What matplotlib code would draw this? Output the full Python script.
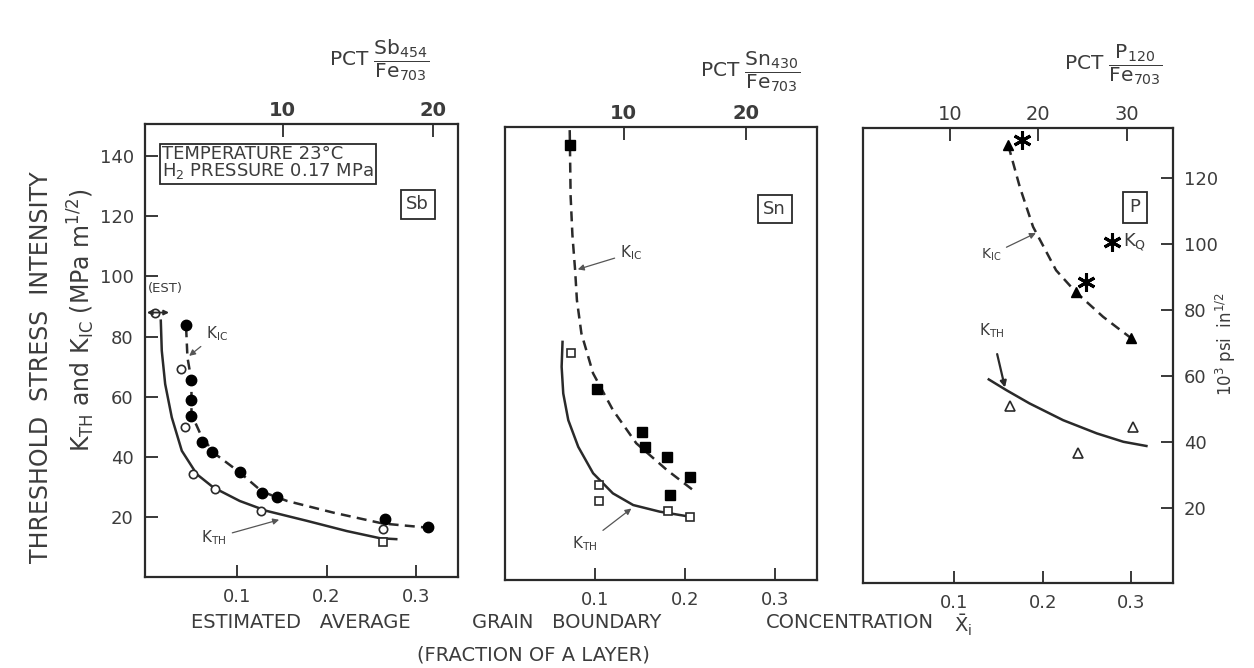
import numpy as np
import matplotlib
matplotlib.use("Agg")
import matplotlib.pyplot as plt

# ---- data ----
# x = grain boundary concentration (fraction of a layer), y = K (MPa m^1/2)

# Sb panel
sb_kic_x = [0.043, 0.049, 0.048, 0.048, 0.061, 0.072, 0.103, 0.128, 0.145, 0.265, 0.314]
sb_kic_y = [83.7, 65.7, 58.9, 53.7, 44.8, 41.7, 34.8, 27.8, 26.7, 19.4, 16.7]
sb_kth_x = [0.037, 0.042, 0.051, 0.075, 0.127, 0.263]
sb_kth_y = [69.2, 49.8, 34.2, 29.4, 22.0, 16.1]
sb_kth_sq_x = [0.263]
sb_kth_sq_y = [11.8]
sb_est_x, sb_est_y = 0.008, 88.0
sb_kic_curve_x = [0.043, 0.0445, 0.049, 0.049, 0.059, 0.0735, 0.103, 0.128, 0.156, 0.208, 0.263, 0.314]
sb_kic_curve_y = [83.1, 73.1, 65.3, 54.2, 47.6, 41.4, 34.8, 28.4, 25.3, 21.4, 17.8, 16.4]
sb_kth_curve_x = [0.0147, 0.0158, 0.0196, 0.027, 0.0382, 0.055, 0.0735, 0.103, 0.133, 0.178, 0.2226, 0.26, 0.278]
sb_kth_curve_y = [85.3, 75.3, 64.2, 53.1, 42.0, 34.2, 29.8, 25.3, 22.0, 18.7, 15.3, 12.9, 12.6]

# Sn panel
sn_kic_x = [0.072, 0.102, 0.152, 0.156, 0.180, 0.206, 0.184]
sn_kic_y = [145.0, 63.6, 49.4, 44.4, 40.9, 34.2, 28.3]
sn_kth_x = [0.073, 0.105, 0.105, 0.181, 0.206]
sn_kth_y = [75.8, 31.7, 26.4, 23.1, 21.1]
sn_kic_curve_x = [0.072, 0.073, 0.075, 0.078, 0.080, 0.085, 0.098, 0.120, 0.146, 0.180, 0.213]
sn_kic_curve_y = [150.0, 128.0, 115.0, 103.3, 93.3, 82.2, 68.9, 56.7, 45.6, 36.7, 29.1]
sn_kth_curve_x = [0.064, 0.063, 0.0648, 0.0704, 0.0815, 0.098, 0.120, 0.1426, 0.172, 0.206]
sn_kth_curve_y = [79.4, 71.1, 62.2, 53.3, 44.4, 35.6, 28.9, 25.0, 22.8, 21.1]

# P panel
p_kic_x = [0.161, 0.237, 0.300]
p_kic_y = [146.0, 97.1, 81.6]
p_kq_x = [0.176, 0.249]
p_kq_y = [147.7, 100.4]
p_kth_x = [0.163, 0.240, 0.302]
p_kth_y = [59.0, 43.4, 52.1]
p_kic_curve_x = [0.161, 0.174, 0.189, 0.215, 0.237, 0.268, 0.283, 0.300]
p_kic_curve_y = [146.0, 132.1, 118.8, 104.3, 97.1, 88.8, 85.4, 81.6]
p_kth_curve_x = [0.139, 0.159, 0.185, 0.223, 0.261, 0.291, 0.317]
p_kth_curve_y = [67.9, 64.3, 59.9, 54.3, 49.9, 47.1, 45.7]

left_yticks = [20, 40, 60, 80, 100, 120, 140]
right_yticks = [20, 40, 60, 80, 100, 120]
bottom_xticks = [0.1, 0.2, 0.3]
bottom_xlabels = ["0.1", "0.2", "0.3"]
top_ticks_sb = [10, 20]
top_ticks_sn = [10, 20]
top_ticks_p = [10, 20, 30]

INK = "#2a2a2a"
TXT = "#3c3c3c"
plt.rcParams["font.family"] = ["DejaVu Sans"]

fig = plt.figure(figsize=(12.54, 6.68), dpi=100)
ax1 = fig.add_axes([0.1156, 0.1362, 0.2496, 0.678])
ax2 = fig.add_axes([0.4027, 0.1317, 0.2488, 0.678])
ax3 = fig.add_axes([0.6882, 0.1272, 0.2472, 0.681])

for ax in (ax1, ax2, ax3):
    for s in ax.spines.values():
        s.set_color(INK)
        s.set_linewidth(1.6)
    ax.tick_params(direction="in", length=9, width=1.3, colors=INK,
                   labelcolor=TXT, labelsize=13, pad=8)
    ax.set_xticks(bottom_xticks)
    ax.set_xticklabels(bottom_xlabels)

ax1.set_xlim(-0.003, 0.347)
ax1.set_ylim(0, 150.7)
ax2.set_xlim(0.0, 0.347)
ax2.set_ylim(0, 151)
ax3.set_xlim(-0.003, 0.347)
ax3.set_ylim(0, 151.7)

ax1.set_yticks(left_yticks)
ax2.set_yticks([])
ax3.set_yticks([])

dash = dict(ls=(0, (4, 2.5)), lw=1.8, color=INK)
solid = dict(ls="-", lw=1.8, color=INK)
annot = dict(arrowstyle="-|>", color="#555555", lw=0.9, mutation_scale=9)
star = (6, 2, 0)

# ---- Sb ----
ax1.plot(sb_kic_curve_x, sb_kic_curve_y, **dash)
ax1.plot(sb_kth_curve_x, sb_kth_curve_y, **solid)
ax1.plot(sb_kic_x, sb_kic_y, "o", ms=7.5, color="black")
ax1.plot(sb_kth_x, sb_kth_y, "o", ms=6, mfc="white", mec=INK, mew=1.2)
ax1.plot(sb_kth_sq_x, sb_kth_sq_y, "s", ms=5.5, mfc="white", mec=INK, mew=1.2)
ax1.annotate("", xy=(-0.004, sb_est_y), xytext=(0.027, sb_est_y),
             arrowprops=dict(arrowstyle="<|-|>", color=INK, lw=1.3, mutation_scale=7),
             annotation_clip=False)
ax1.plot([sb_est_x], [sb_est_y], "o", ms=6, mfc="white", mec=INK, mew=1.2, clip_on=False)
ax1.text(0.0, 96, "(EST)", fontsize=9.5, color=TXT, ha="left", va="center")
ax1.annotate(r"K$_{\mathrm{IC}}$", xy=(0.044, 73), xytext=(0.065, 81),
             fontsize=11, color=TXT, va="center", arrowprops=annot)
ax1.annotate(r"K$_{\mathrm{TH}}$", xy=(0.15, 19.3), xytext=(0.06, 13),
             fontsize=11, color=TXT, va="center", arrowprops=annot)
ax1.text(0.016, 137.7, "TEMPERATURE 23°C\nH$_2$ PRESSURE 0.17 MPa", fontsize=13,
         color=TXT, ha="left", va="center", linespacing=0.9,
         bbox=dict(boxstyle="square,pad=0.12", fc="white", ec=INK, lw=1.3))
ax1.text(0.302, 124, "Sb", fontsize=13, color=TXT, ha="center", va="center",
         bbox=dict(boxstyle="square,pad=0.3", fc="white", ec=INK, lw=1.3))

# ---- Sn ----
ax2.plot(sn_kic_curve_x, sn_kic_curve_y, **dash)
ax2.plot(sn_kth_curve_x, sn_kth_curve_y, **solid)
ax2.plot(sn_kic_x, sn_kic_y, "s", ms=7, color="black")
ax2.plot(sn_kth_x, sn_kth_y, "s", ms=6, mfc="white", mec=INK, mew=1.2)
ax2.annotate(r"K$_{\mathrm{IC}}$", xy=(0.078, 103.3), xytext=(0.128, 109),
             fontsize=11, color=TXT, va="center", arrowprops=annot)
ax2.annotate(r"K$_{\mathrm{TH}}$", xy=(0.143, 24.4), xytext=(0.075, 12),
             fontsize=11, color=TXT, va="center", arrowprops=annot)
ax2.text(0.30, 123.7, "Sn", fontsize=13, color=TXT, ha="center", va="center",
         bbox=dict(boxstyle="square,pad=0.3", fc="white", ec=INK, lw=1.3))

# ---- P ----
ax3.plot(p_kic_curve_x, p_kic_curve_y, **dash)
ax3.plot(p_kth_curve_x, p_kth_curve_y, **solid)
ax3.plot(p_kic_x, p_kic_y, "^", ms=7, color="black")
ax3.plot(p_kth_x, p_kth_y, "^", ms=6.5, mfc="white", mec=INK, mew=1.2)
ax3.plot(p_kq_x, p_kq_y, marker=star, ls="none", ms=13, mew=2.2, color="black")
ax3.plot([0.278], [113.8], marker=star, ls="none", ms=13, mew=2.2, color="black")
ax3.text(0.29, 113.8, r"K$_{\mathrm{Q}}$", fontsize=13, color=TXT, va="center", ha="left")
ax3.annotate(r"K$_{\mathrm{IC}}$", xy=(0.195, 117.1), xytext=(0.13, 109.5),
             fontsize=10, color=TXT, va="center", arrowprops=annot)
ax3.annotate(r"K$_{\mathrm{TH}}$", xy=(0.158, 64.3), xytext=(0.128, 84),
             fontsize=11, color=TXT, va="center",
             arrowprops=dict(arrowstyle="-|>", color=INK, lw=1.6, mutation_scale=9,
                             shrinkA=8))
ax3.text(0.304, 125.3, "P", fontsize=13, color=TXT, ha="center", va="center",
         bbox=dict(boxstyle="square,pad=0.35", fc="white", ec=INK, lw=1.3))

# ---- top axes: PCT ratios ----
def make_top(ax, c0, k, ticks, bold):
    sec = ax.secondary_xaxis("top", functions=(lambda c: (c - c0) * k,
                                               lambda p: p / k + c0))
    sec.set_xticks(ticks)
    sec.tick_params(direction="in", length=9, width=1.3, colors=INK,
                    labelcolor=TXT, labelsize=14, pad=3)
    if bold:
        for t in sec.get_xticklabels():
            t.set_fontweight("bold")
    sec.spines["top"].set_visible(False)
    return sec

make_top(ax1, -0.017, 59.5, top_ticks_sb, True)
make_top(ax2, -0.004, 73.5, top_ticks_sn, True)
make_top(ax3, -0.005, 100.0, top_ticks_p, False)

fig.text(0.302, 0.91, r"PCT $\dfrac{\mathrm{Sb}_{454}}{\mathrm{Fe}_{703}}$",
         fontsize=14.5, color=TXT, ha="center", va="center")
fig.text(0.598, 0.893, r"PCT $\dfrac{\mathrm{Sn}_{430}}{\mathrm{Fe}_{703}}$",
         fontsize=14.5, color=TXT, ha="center", va="center")
fig.text(0.888, 0.903, r"PCT $\dfrac{\mathrm{P}_{120}}{\mathrm{Fe}_{703}}$",
         fontsize=14.5, color=TXT, ha="center", va="center")

# ---- right axis (ksi in^1/2) on P panel ----
sec_y = ax3.secondary_yaxis("right", functions=(lambda m: (m - 3.0) / 1.1,
                                                lambda s: s * 1.1 + 3.0))
sec_y.set_yticks(right_yticks)
sec_y.tick_params(direction="in", length=9, width=1.3, colors=INK,
                  labelcolor=TXT, labelsize=13, pad=8)
sec_y.spines["right"].set_visible(False)
fig.text(0.978, 0.485, r"10$^3$ psi  in$^{1/2}$", rotation=90, fontsize=12,
         color=TXT, ha="center", va="center")

# ---- shared labels ----
fig.text(0.033, 0.45, "THRESHOLD  STRESS  INTENSITY", rotation=90, fontsize=17,
         color=TXT, ha="center", va="center")
fig.text(0.065, 0.52, r"K$_{\mathrm{TH}}$ and K$_{\mathrm{IC}}$ (MPa m$^{1/2}$)",
         rotation=90, fontsize=17, color=TXT, ha="center", va="center")
label_y = 0.068
fig.text(0.240, label_y, "ESTIMATED   AVERAGE", fontsize=14, color=TXT, ha="center", va="center")
fig.text(0.452, label_y, "GRAIN   BOUNDARY", fontsize=14, color=TXT, ha="center", va="center")
fig.text(0.678, label_y, "CONCENTRATION", fontsize=14, color=TXT, ha="center", va="center")
fig.text(0.768, label_y - 0.004, r"$\bar{\mathrm{X}}_{\mathrm{i}}$", fontsize=14, color=TXT,
         ha="center", va="center")
fig.text(0.425, 0.02, "(FRACTION OF A LAYER)", fontsize=14, color=TXT,
         ha="center", va="center")

fig.savefig("out.png", dpi=100, facecolor="white")
